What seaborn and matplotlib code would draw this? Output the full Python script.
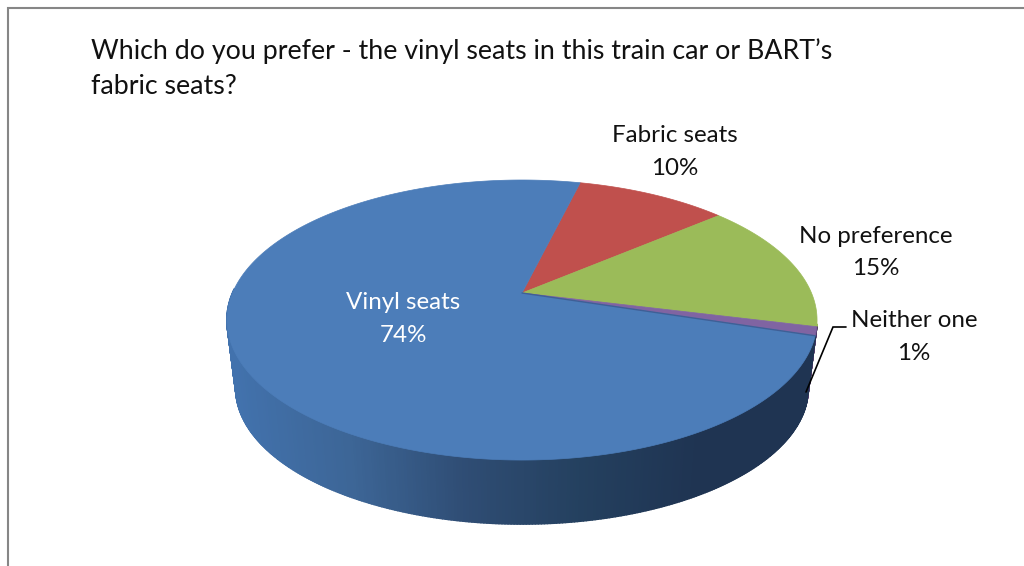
import numpy as np
import matplotlib
matplotlib.use("Agg")
import matplotlib.pyplot as plt
from matplotlib.collections import PolyCollection
from matplotlib.colors import to_rgb
from matplotlib.patches import Polygon
import seaborn as sns

title_lines = ["Which do you prefer - the vinyl seats in this train car or BART\u2019s", "fabric seats?"]
slices = ["Fabric seats", "No preference", "Neither one", "Vinyl seats"]
values = [10, 15, 1, 74]
colors = ["#c0504d", "#9bbb59", "#8064a2", "#4c7db9"]
wall_colors = ["#c0504d", "#9bbb59", "#4f3a6b", None]

label_pos = {"Fabric seats": (675, 152), "No preference": (876, 252.5),
             "Neither one": (914, 337), "Vinyl seats": (403, 319)}
label_col = {"Fabric seats": "#111111", "No preference": "#111111",
             "Neither one": "#111111", "Vinyl seats": "white"}

sns.set_theme(style="white")
plt.rcParams["font.family"] = ["Lato", "DejaVu Sans"]

fig = plt.figure(figsize=(10.24, 5.66), dpi=100)
ax = fig.add_axes([0, 0, 1, 1])
ax.set_xlim(0, 1024)
ax.set_ylim(566, 0)
ax.axis("off")

# projection of the pie disc
CX, CY, B, A, K = 522.0, 293.0, 289.5, 134.8, 0.193
START = 13.8
SCALE, DROP = 0.97, 69.0
WALL_END = 272.0


def project(deg):
    t = np.radians(deg)
    u, v = np.sin(t), np.cos(t)
    d = 1 + K * v
    return CX + B * u / d, CY - A * v / d


shares = np.array(values, dtype=float) / sum(values) * 360
edges = START + np.concatenate([[0], np.cumsum(shares)])

# side wall
wall_blue = sns.blend_palette(["#4272ad", "#3d6697", "#2f4d74", "#24405f", "#1f3452", "#1f3452"], n_colors=200)
grid = np.arange(edges[2] - 1.0, WALL_END, 0.5)
polys, fcs = [], []
for a0, a1 in zip(grid[:-1], grid[1:]):
    x0, y0 = project(a0)
    x1, y1 = project(a1)
    bx0, by0 = CX + SCALE * (x0 - CX), CY + DROP + SCALE * (y0 - CY)
    bx1, by1 = CX + SCALE * (x1 - CX), CY + DROP + SCALE * (y1 - CY)
    polys.append([(x0, y0), (x1, y1), (bx1, by1), (bx0, by0)])
    mid = (a0 + a1) / 2
    idx = int(np.searchsorted(edges, mid) - 1)
    idx = min(max(idx, 0), 3)
    if wall_colors[idx] is None:
        frac = np.clip(((x0 + x1) / 2 - 227) / (815 - 227), 0, 1)
        fcs.append(wall_blue[int(frac * 199)])
    else:
        fcs.append(to_rgb(wall_colors[idx]))
ax.add_collection(PolyCollection(polys, facecolors=fcs, edgecolors=fcs, linewidths=1.2, zorder=1))

# top face
for i, name in enumerate(slices):
    ang = np.linspace(edges[i], edges[i + 1], max(int(shares[i] * 2), 8))
    xs, ys = project(ang)
    pts = np.column_stack([np.r_[CX, xs], np.r_[CY, ys]])
    ax.add_patch(Polygon(pts, closed=True, facecolor=colors[i], edgecolor=colors[i], lw=0.5, zorder=2))

# thin dark edge under the purple slice
x_p, y_p = project(edges[3])
ax.plot([CX, x_p], [CY, y_p], color="#3f5f96", lw=1.0, zorder=3)

# labels
for name, val in zip(slices, values):
    x, y = label_pos[name]
    ax.text(x, y, f"{name}\n{val}%", ha="center", va="center", fontsize=17.4,
            linespacing=1.68, color=label_col[name], zorder=5)

# leader
ax.plot([806, 833, 846], [392, 327, 327], color="black", lw=1.2, zorder=4, solid_joinstyle="miter")

# title
ax.text(91, 51, title_lines[0], ha="left", va="center", fontsize=19.3, color="#111111")
ax.text(91, 86, title_lines[1], ha="left", va="center", fontsize=19.3, color="#111111")

# frame
ax.plot([8, 8, 1024], [566, 8, 8], color="#868686", lw=1.5, zorder=0, solid_joinstyle="miter")

fig.savefig("out.png", dpi=100)
